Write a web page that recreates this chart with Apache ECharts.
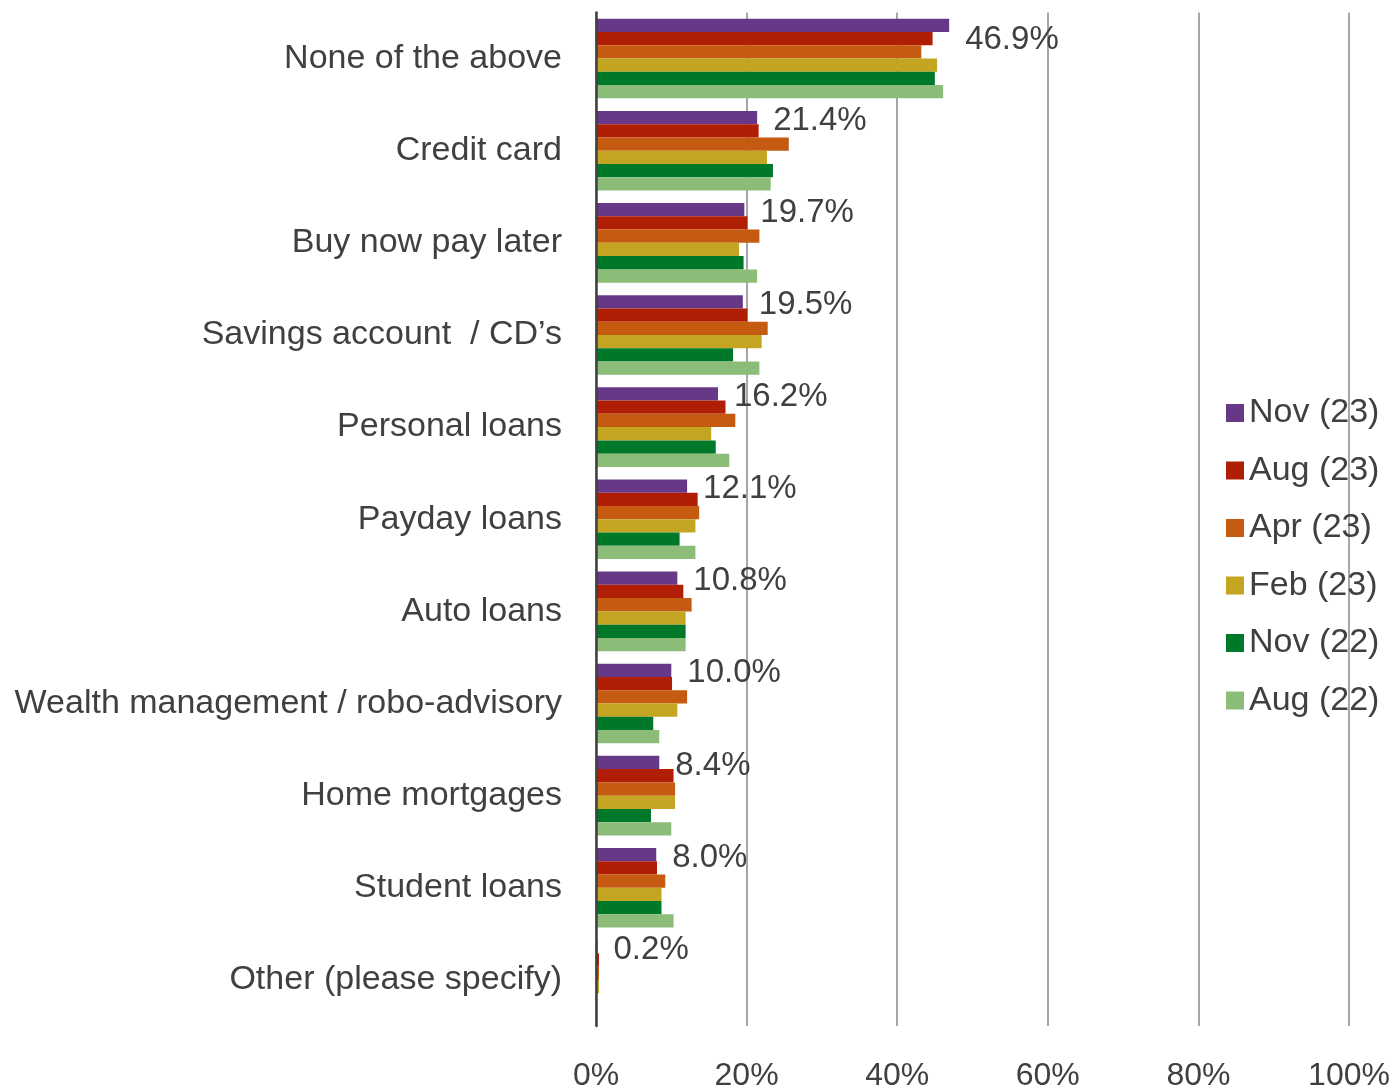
<!DOCTYPE html>
<html>
<head>
<meta charset="utf-8">
<script src="https://cdn.jsdelivr.net/npm/echarts@6/dist/echarts.min.js"></script>
<style>
html,body{margin:0;padding:0;background:#fff;}
#chart{width:1399px;height:1092px;}
</style>
</head>
<body>
<div id="chart"></div>
<script>
const categories = ["None of the above","Credit card","Buy now pay later","Savings account  / CD\u2019s","Personal loans","Payday loans","Auto loans","Wealth management / robo-advisory","Home mortgages","Student loans","Other (please specify)"];
const seriesNames = ["Nov (23)","Aug (23)","Apr (23)","Feb (23)","Nov (22)","Aug (22)"];
const nov23 = [46.9, 21.4, 19.7, 19.5, 16.2, 12.1, 10.8, 10.0, 8.4, 8.0, 0.2];
const aug23 = [44.7, 21.6, 20.1, 20.1, 17.2, 13.5, 11.6, 10.1, 10.3, 8.1, 0.4];
const apr23 = [43.2, 25.6, 21.7, 22.8, 18.5, 13.7, 12.7, 12.1, 10.5, 9.2, 0.4];
const feb23 = [45.3, 22.7, 19.0, 22.0, 15.3, 13.2, 11.9, 10.8, 10.5, 8.7, 0.4];
const nov22 = [45.0, 23.5, 19.6, 18.2, 15.9, 11.1, 11.9, 7.6, 7.3, 8.7, 0];
const aug22 = [46.1, 23.2, 21.4, 21.7, 17.7, 13.2, 11.9, 8.4, 10.0, 10.3, 0];
const xTicks = [0, 20, 40, 60, 80, 100];

const colors = ["#673888","#B11E06","#C55A11","#C3A521","#00782A","#8BBD78"];
const allValues = [nov23, aug23, apr23, feb23, nov22, aug22];
const FONT = "'Liberation Sans', Arial, sans-serif";
const TXT = "#404040";

const series = allValues.map((vals, si) => {
  const s = {
    name: seriesNames[si],
    type: 'bar',
    barGap: '0%',
    barCategoryGap: '13.6%',
    itemStyle: { color: colors[si] },
    data: vals.slice()
  };
  if (si === 0) {
    s.label = {
      show: true,
      position: 'right',
      distance: 16,
      offset: [0, 3],
      fontFamily: FONT,
      fontSize: 33,
      color: TXT,
      formatter: p => p.value.toFixed(1) + '%'
    };
    s.data = vals.map((v, i) => i === 0 ? { value: v, label: { offset: [0, 15] } } : v);
  }
  return s;
});

const chart = echarts.init(document.getElementById('chart'), null, { renderer: 'canvas' });
chart.setOption({
  animation: false,
  backgroundColor: '#ffffff',
  textStyle: { fontFamily: FONT },
  grid: { left: 596, right: 50, top: 12.5, bottom: 62, containLabel: false },
  legend: {
    orient: 'vertical',
    left: 1226,
    top: 396,
    padding: 0,
    itemWidth: 18,
    itemHeight: 18,
    itemGap: 23.5,
    icon: 'rect',
    textStyle: { fontFamily: FONT, fontSize: 34, color: TXT },
    data: seriesNames
  },
  xAxis: {
    type: 'value',
    min: xTicks[0],
    max: xTicks[xTicks.length - 1],
    interval: xTicks[1] - xTicks[0],
    axisLine: { show: false },
    axisTick: { show: false },
    splitLine: { show: true, lineStyle: { color: '#A6A6A6', width: 2 } },
    axisLabel: { fontFamily: FONT, fontSize: 32, color: TXT, margin: 34, formatter: v => v + '%' }
  },
  yAxis: {
    type: 'category',
    inverse: true,
    data: categories,
    z: 3,
    axisLine: { show: true, lineStyle: { color: '#404040', width: 2.5 } },
    axisTick: { show: false },
    axisLabel: { fontFamily: FONT, fontSize: 34, color: TXT, margin: 34 }
  },
  series: series
});
</script>
</body>
</html>
